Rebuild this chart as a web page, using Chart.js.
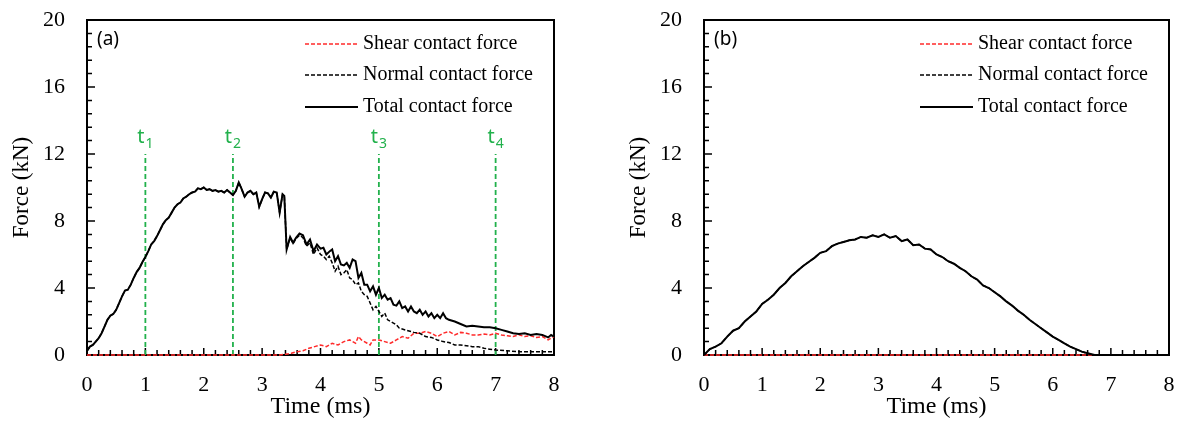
<!DOCTYPE html>
<html>
<head>
<meta charset="utf-8">
<script src="https://cdn.jsdelivr.net/npm/chart.js@4.4.1/dist/chart.umd.min.js"></script>
<style>
  html, body { margin: 0; padding: 0; background: #fff; }
  #wrap { position: relative; width: 1177px; height: 428px; }
  canvas { position: absolute; top: 0; }
  #chartA { left: 0; }
  #chartB { left: 617px; }
</style>
</head>
<body>
<div id="wrap">
  <canvas id="chartA" width="617" height="428"></canvas>
  <canvas id="chartB" width="560" height="428"></canvas>
</div>
<script>
// ---- data: [time (ms), force (kN)] ----

const totalA = [
  [0, 0.25], [0.05, 0.5], [0.1, 0.6], [0.15, 0.8], [0.2, 1.0], [0.25, 1.3], [0.3, 1.7], [0.35, 2.1],
  [0.4, 2.35], [0.45, 2.45], [0.5, 2.7], [0.55, 3.1], [0.6, 3.5], [0.65, 3.85], [0.7, 3.9], [0.75, 4.2],
  [0.8, 4.6], [0.85, 4.95], [0.9, 5.2], [0.95, 5.55], [1.0, 5.85], [1.05, 6.2], [1.1, 6.6], [1.15, 6.8],
  [1.2, 7.1], [1.25, 7.45], [1.3, 7.8], [1.35, 8.05], [1.4, 8.2], [1.45, 8.5], [1.5, 8.8], [1.55, 9.0],
  [1.6, 9.1], [1.65, 9.35], [1.7, 9.45], [1.75, 9.6], [1.8, 9.7], [1.85, 9.75], [1.9, 9.95], [1.95, 9.9],
  [2.0, 10.0], [2.05, 9.85], [2.1, 9.9], [2.15, 9.8], [2.2, 9.85], [2.25, 9.75], [2.3, 9.8], [2.35, 9.7],
  [2.4, 9.85], [2.45, 9.7], [2.5, 9.55], [2.55, 9.8], [2.6, 10.3], [2.65, 9.9], [2.7, 9.45], [2.75, 9.7],
  [2.8, 9.8], [2.85, 9.6], [2.9, 9.7], [2.95, 8.85], [3.0, 9.3], [3.05, 9.7], [3.1, 9.65], [3.15, 9.4],
  [3.2, 9.75], [3.25, 9.7], [3.3, 8.5], [3.35, 9.6], [3.38, 9.5], [3.42, 6.3], [3.48, 7.05], [3.53, 6.7],
  [3.58, 7.0], [3.64, 7.25], [3.7, 7.15], [3.76, 6.6], [3.82, 6.9], [3.88, 6.2], [3.94, 6.6], [4.0, 6.35],
  [4.05, 6.4], [4.1, 6.0], [4.16, 6.2], [4.2, 6.3], [4.25, 5.6], [4.3, 5.9], [4.35, 5.4], [4.4, 5.35],
  [4.45, 5.5], [4.5, 5.2], [4.55, 5.7], [4.6, 5.6], [4.65, 4.6], [4.7, 4.9], [4.75, 4.2], [4.8, 4.2],
  [4.85, 3.8], [4.9, 4.1], [4.95, 3.6], [5.0, 4.0], [5.05, 3.4], [5.1, 3.6], [5.15, 3.3], [5.2, 3.4],
  [5.25, 3.0], [5.3, 2.95], [5.35, 3.2], [5.4, 2.8], [5.45, 2.9], [5.5, 2.6], [5.55, 2.9], [5.6, 2.6],
  [5.65, 2.5], [5.7, 2.7], [5.75, 2.4], [5.8, 2.6], [5.85, 2.3], [5.9, 2.5], [5.95, 2.2], [6.0, 2.4],
  [6.05, 2.2], [6.1, 2.5], [6.15, 2.2], [6.2, 2.1], [6.3, 2.0], [6.4, 1.85], [6.5, 1.7], [6.6, 1.75],
  [6.7, 1.7], [6.8, 1.65], [6.9, 1.65], [7.0, 1.6], [7.1, 1.5], [7.2, 1.4], [7.3, 1.3], [7.4, 1.25],
  [7.5, 1.3], [7.6, 1.2], [7.7, 1.25], [7.8, 1.2], [7.9, 1.05], [7.95, 1.2], [8.0, 1.1]
];

const normalA = [
  [0, 0.25], [0.05, 0.5], [0.1, 0.6], [0.15, 0.8], [0.2, 1.0], [0.25, 1.3], [0.3, 1.7], [0.35, 2.1],
  [0.4, 2.35], [0.45, 2.45], [0.5, 2.7], [0.55, 3.1], [0.6, 3.5], [0.65, 3.85], [0.7, 3.9], [0.75, 4.2],
  [0.8, 4.6], [0.85, 4.95], [0.9, 5.2], [0.95, 5.55], [1.0, 5.85], [1.05, 6.2], [1.1, 6.6], [1.15, 6.8],
  [1.2, 7.1], [1.25, 7.45], [1.3, 7.8], [1.35, 8.05], [1.4, 8.2], [1.45, 8.5], [1.5, 8.8], [1.55, 9.0],
  [1.6, 9.1], [1.65, 9.35], [1.7, 9.45], [1.75, 9.6], [1.8, 9.7], [1.85, 9.75], [1.9, 9.95], [1.95, 9.9],
  [2.0, 10.0], [2.05, 9.85], [2.1, 9.9], [2.15, 9.8], [2.2, 9.85], [2.25, 9.75], [2.3, 9.8], [2.35, 9.7],
  [2.4, 9.85], [2.45, 9.7], [2.5, 9.55], [2.55, 9.8], [2.6, 10.3], [2.65, 9.9], [2.7, 9.45], [2.75, 9.7],
  [2.8, 9.8], [2.85, 9.6], [2.9, 9.7], [2.95, 8.85], [3.0, 9.3], [3.05, 9.7], [3.1, 9.65], [3.15, 9.4],
  [3.2, 9.75], [3.25, 9.7], [3.3, 8.5], [3.35, 9.6], [3.38, 9.5], [3.42, 6.3], [3.48, 7.0], [3.53, 6.65],
  [3.58, 6.95], [3.64, 7.15], [3.7, 7.0], [3.76, 6.5], [3.82, 6.7], [3.88, 6.0], [3.94, 6.4], [4.0, 6.0],
  [4.05, 5.9], [4.1, 5.7], [4.15, 5.9], [4.2, 5.5], [4.25, 5.0], [4.3, 5.3], [4.35, 4.8], [4.4, 4.9],
  [4.45, 5.1], [4.5, 4.6], [4.55, 4.5], [4.6, 4.2], [4.65, 4.3], [4.7, 3.8], [4.75, 3.6], [4.8, 3.5],
  [4.85, 3.1], [4.9, 2.7], [4.95, 2.9], [5.0, 2.6], [5.05, 2.3], [5.1, 2.5], [5.15, 2.1], [5.2, 2.0],
  [5.25, 1.9], [5.3, 1.8], [5.35, 1.6], [5.4, 1.55], [5.5, 1.45], [5.6, 1.35], [5.7, 1.3], [5.8, 1.1],
  [5.9, 1.05], [6.0, 0.9], [6.1, 0.8], [6.2, 0.75], [6.3, 0.6], [6.4, 0.6], [6.5, 0.55], [6.6, 0.5],
  [6.7, 0.5], [6.8, 0.4], [6.9, 0.35], [7.0, 0.3], [7.2, 0.25], [7.4, 0.2], [7.6, 0.2], [7.8, 0.2], [8.0, 0.2]
];

const shearA = [
  [0, 0], [3.3, 0], [3.4, 0.05], [3.5, 0.1], [3.6, 0.2], [3.7, 0.25], [3.8, 0.4], [3.9, 0.5],
  [4.0, 0.6], [4.1, 0.5], [4.2, 0.7], [4.3, 0.6], [4.4, 0.8], [4.5, 0.9], [4.6, 0.7], [4.65, 1.1],
  [4.7, 0.9], [4.8, 0.7], [4.85, 0.6], [4.9, 0.9], [5.0, 0.9], [5.1, 0.8], [5.2, 0.7], [5.3, 0.9],
  [5.4, 1.1], [5.5, 1.0], [5.6, 1.3], [5.7, 1.3], [5.8, 1.4], [5.9, 1.3], [6.0, 1.1], [6.1, 1.3],
  [6.2, 1.4], [6.3, 1.2], [6.4, 1.35], [6.5, 1.3], [6.6, 1.2], [6.7, 1.2], [6.8, 1.25], [6.9, 1.2],
  [7.0, 1.3], [7.1, 1.2], [7.2, 1.15], [7.3, 1.1], [7.4, 1.2], [7.5, 1.1], [7.6, 1.15], [7.7, 1.05],
  [7.8, 1.1], [7.9, 0.9], [8.0, 1.1]
];

const totalB = [
  [0, 0], [0.1, 0.35], [0.2, 0.5], [0.3, 0.7], [0.4, 1.1], [0.5, 1.45], [0.6, 1.6], [0.7, 2.0],
  [0.8, 2.3], [0.9, 2.6], [1.0, 3.05], [1.1, 3.3], [1.2, 3.6], [1.3, 4.0], [1.4, 4.3], [1.5, 4.7],
  [1.6, 5.0], [1.7, 5.3], [1.8, 5.55], [1.9, 5.8], [2.0, 6.1], [2.1, 6.2], [2.2, 6.5], [2.3, 6.65],
  [2.4, 6.75], [2.5, 6.85], [2.6, 6.9], [2.7, 7.05], [2.8, 7.0], [2.9, 7.15], [3.0, 7.05], [3.1, 7.2],
  [3.2, 7.0], [3.3, 7.1], [3.4, 6.8], [3.5, 6.9], [3.6, 6.55], [3.7, 6.6], [3.8, 6.35], [3.9, 6.3],
  [4.0, 6.0], [4.1, 5.85], [4.2, 5.6], [4.3, 5.45], [4.4, 5.2], [4.5, 5.0], [4.6, 4.7], [4.7, 4.5],
  [4.8, 4.15], [4.9, 4.0], [5.0, 3.75], [5.1, 3.5], [5.2, 3.2], [5.3, 2.95], [5.4, 2.65], [5.5, 2.4],
  [5.6, 2.1], [5.7, 1.85], [5.8, 1.6], [5.9, 1.35], [6.0, 1.1], [6.1, 0.9], [6.2, 0.7], [6.3, 0.5],
  [6.4, 0.35], [6.5, 0.2], [6.6, 0.1], [6.72, 0], [8.0, 0]
];

const normalB = [
  [0, 0], [0.1, 0.35], [0.2, 0.5], [0.3, 0.7], [0.4, 1.1], [0.5, 1.45], [0.6, 1.6], [0.7, 2.0],
  [0.8, 2.3], [0.9, 2.6], [1.0, 3.05], [1.1, 3.3], [1.2, 3.6], [1.3, 4.0], [1.4, 4.3], [1.5, 4.7],
  [1.6, 5.0], [1.7, 5.3], [1.8, 5.55], [1.9, 5.8], [2.0, 6.1], [2.1, 6.2], [2.2, 6.5], [2.3, 6.65],
  [2.4, 6.75], [2.5, 6.85], [2.6, 6.9], [2.7, 7.05], [2.8, 7.0], [2.9, 7.15], [3.0, 7.05], [3.1, 7.2],
  [3.2, 7.0], [3.3, 7.1], [3.4, 6.8], [3.5, 6.9], [3.6, 6.55], [3.7, 6.6], [3.8, 6.35], [3.9, 6.3],
  [4.0, 6.0], [4.1, 5.85], [4.2, 5.6], [4.3, 5.45], [4.4, 5.2], [4.5, 5.0], [4.6, 4.7], [4.7, 4.5],
  [4.8, 4.15], [4.9, 4.0], [5.0, 3.75], [5.1, 3.5], [5.2, 3.2], [5.3, 2.95], [5.4, 2.65], [5.5, 2.4],
  [5.6, 2.1], [5.7, 1.85], [5.8, 1.6], [5.9, 1.35], [6.0, 1.1], [6.1, 0.9], [6.2, 0.7], [6.3, 0.5],
  [6.4, 0.35], [6.5, 0.2], [6.6, 0.1], [6.72, 0], [8.0, 0]
];

const shearB = [[0, 0], [8.0, 0]];

// time markers in panel (a)
const markerTimes = [1, 2.5, 5, 7];
const markerSubs = ['1', '2', '3', '4'];
const markerTop = 12;

// axes
const xRange = [0, 8];
const yRange = [0, 20];
const xStep = 1;
const yStep = 4;
const xMinorStep = 0.2;
const yMinorStep = 0.8;

const legendNames = ['Shear contact force', 'Normal contact force', 'Total contact force'];

const SERIF = '"Liberation Serif", "Times New Roman", serif';
const SANS = '"Noto Sans", "Open Sans", sans-serif';
const GREEN = '#22b14c';
const RED = '#ff2b2b';

const pts = pairs => pairs.map(([x, y]) => ({ x, y }));

/* ---------- frame, inward ticks, legend, labels ---------- */

const framePlugin = {
    id: 'frame',
    beforeDatasetsDraw(chart) {
        const { ctx, chartArea: a, scales: { x, y } } = chart;
        ctx.save();
        ctx.strokeStyle = '#000';
        ctx.lineWidth = 1.5;
        ctx.beginPath();
        const nx = Math.round((xRange[1] - xRange[0]) / xMinorStep);
        for (let i = 0; i <= nx; i++) {
            const px = x.getPixelForValue(xRange[0] + i * xMinorStep);
            const len = i % 5 === 0 ? 7 : 5;
            ctx.moveTo(px, a.bottom);
            ctx.lineTo(px, a.bottom - len);
        }
        const ny = Math.round((yRange[1] - yRange[0]) / yMinorStep);
        for (let i = 0; i <= ny; i++) {
            const py = y.getPixelForValue(yRange[0] + i * yMinorStep);
            const len = i % 5 === 0 ? 8 : 5;
            ctx.moveTo(a.left, py);
            ctx.lineTo(a.left + len, py);
        }
        ctx.stroke();
        ctx.lineWidth = 2;
        ctx.strokeRect(a.left, a.top, a.right - a.left, a.bottom - a.top);
        ctx.restore();
    },
    afterDatasetsDraw(chart, args, opts) {
        const { ctx, chartArea: a, scales: { x, y } } = chart;
        ctx.save();

        // panel tag
        ctx.fillStyle = '#000';
        ctx.font = '19px ' + SANS;
        ctx.textBaseline = 'middle';
        ctx.textAlign = 'left';
        ctx.fillText(opts.tag, a.left + 10, a.top + 20);

        // legend
        const items = chart.data.datasets.filter(d => d.legendIndex !== undefined)
            .sort((p, q) => p.legendIndex - q.legendIndex);
        const rows = [24, 55, 87];
        items.forEach((d, i) => {
            const ly = a.top + rows[i];
            ctx.beginPath();
            ctx.setLineDash(d.borderDash || []);
            ctx.strokeStyle = d.borderColor;
            ctx.lineWidth = d.borderWidth;
            ctx.moveTo(a.right - 249, ly);
            ctx.lineTo(a.right - 196, ly);
            ctx.stroke();
            ctx.setLineDash([]);
            ctx.fillStyle = '#000';
            ctx.font = '20px ' + SERIF;
            ctx.fillText(legendNames[d.legendIndex], a.right - 191, ly);
        });

        // t1..t4 marker labels
        if (opts.markers) {
            ctx.fillStyle = GREEN;
            ctx.textBaseline = 'alphabetic';
            const top = y.getPixelForValue(markerTop);
            markerTimes.forEach((t, i) => {
                const px = x.getPixelForValue(t);
                ctx.font = '20px ' + SANS;
                const wt = ctx.measureText('t').width;
                ctx.font = '14px ' + SANS;
                const ws = ctx.measureText(markerSubs[i]).width;
                const x0 = px - (wt + ws + 1) / 2;
                ctx.font = '20px ' + SANS;
                ctx.fillText('t', x0, top - 11);
                ctx.font = '14px ' + SANS;
                ctx.fillText(markerSubs[i], x0 + wt + 1, top - 6);
            });
        }
        ctx.restore();
    }
};

/* ---------- chart builder ---------- */

function lineSet(data, color, dash, width, legendIndex) {
    return {
        data: pts(data),
        borderColor: color,
        borderDash: dash,
        borderWidth: width,
        legendIndex,
        showLine: true,
        pointRadius: 0,
        tension: 0,
        clip: false
    };
}

function buildChart(canvasId, sets, tag, markers, padRight) {
    const datasets = [
        lineSet(sets.total, '#000', [], 2, 2),
        lineSet(sets.normal, '#000', [4, 2], 1.5, 1),
        lineSet(sets.shear, RED, [4, 2], 1.5, 0)
    ];
    if (markers) {
        markerTimes.forEach(t => {
            datasets.push({
                data: [{ x: t, y: 0 }, { x: t, y: markerTop }],
                borderColor: GREEN,
                borderDash: [5, 3],
                borderWidth: 1.8,
                showLine: true,
                pointRadius: 0
            });
        });
    }

    return new Chart(document.getElementById(canvasId).getContext('2d'), {
        type: 'scatter',
        data: { datasets },
        plugins: [framePlugin],
        options: {
            responsive: false,
            animation: false,
            devicePixelRatio: 1,
            layout: { padding: { top: 20, right: padRight, left: 0, bottom: 0 } },
            plugins: {
                legend: { display: false },
                tooltip: { enabled: false },
                frame: { tag, markers }
            },
            scales: {
                x: {
                    type: 'linear',
                    min: xRange[0],
                    max: xRange[1],
                    afterFit(scale) {
                        scale.height = 73;
                        scale.paddingLeft = 0;
                        scale.paddingRight = 0;
                    },
                    grid: { display: false, drawTicks: false },
                    border: { display: false },
                    ticks: {
                        stepSize: xStep,
                        padding: 17,
                        color: '#000',
                        font: { family: SERIF, size: 22 }
                    },
                    title: {
                        display: true,
                        text: 'Time (ms)',
                        color: '#000',
                        padding: { top: 0, bottom: 7 },
                        font: { family: SERIF, size: 24 }
                    }
                },
                y: {
                    type: 'linear',
                    min: yRange[0],
                    max: yRange[1],
                    afterFit(scale) {
                        scale.width = 87;
                        scale.paddingTop = 0;
                        scale.paddingBottom = 0;
                    },
                    grid: { display: false, drawTicks: false },
                    border: { display: false },
                    ticks: {
                        stepSize: yStep,
                        padding: 22,
                        color: '#000',
                        font: { family: SERIF, size: 22 }
                    },
                    title: {
                        display: true,
                        text: 'Force (kN)',
                        color: '#000',
                        padding: { top: 8, bottom: 0 },
                        font: { family: SERIF, size: 23 }
                    }
                }
            }
        }
    });
}

buildChart('chartA', { total: totalA, normal: normalA, shear: shearA }, '(a)', true, 63);
buildChart('chartB', { total: totalB, normal: normalB, shear: shearB }, '(b)', false, 8);
</script>
</body>
</html>
